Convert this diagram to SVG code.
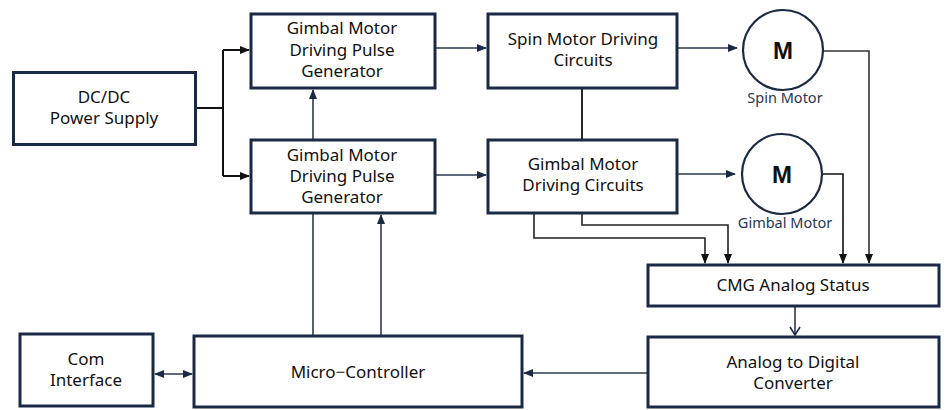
<svg xmlns="http://www.w3.org/2000/svg" width="946" height="410" viewBox="0 0 946 410">
<style>
.box{fill:#fff;stroke:#1b2a44;stroke-width:3}
.t{font-family:"Noto Sans","Open Sans",sans-serif;font-size:17px;fill:#111;text-anchor:middle}
.s{font-family:"Noto Sans","Open Sans",sans-serif;font-size:14.5px;fill:#2a3550;text-anchor:middle}
.m{font-family:"Liberation Sans",Arial,sans-serif;font-size:24px;font-weight:bold;fill:#111;text-anchor:middle}
.c{fill:none;stroke:#2a3a52;stroke-width:1.6}
.k{fill:none;stroke:#111;stroke-width:2}
</style>
<defs>
<marker id="a" markerWidth="10" markerHeight="8" refX="9" refY="4" orient="auto" markerUnits="userSpaceOnUse"><path d="M0,0 L10,4 L0,8 Z" fill="#1b2a44"/></marker>
<marker id="ak" markerWidth="10" markerHeight="8" refX="9" refY="4" orient="auto" markerUnits="userSpaceOnUse"><path d="M0,0 L10,4 L0,8 Z" fill="#111"/></marker>
<marker id="as" markerWidth="10" markerHeight="8" refX="9" refY="4" orient="auto-start-reverse" markerUnits="userSpaceOnUse"><path d="M0,0 L10,4 L0,8 Z" fill="#1b2a44"/></marker>
<marker id="v" markerWidth="10" markerHeight="12" refX="9" refY="6" orient="auto" markerUnits="userSpaceOnUse"><path d="M1,1 L9,6 L1,11" fill="none" stroke="#1b2a44" stroke-width="1.6"/></marker>
</defs>
<g id="connectors">
<path class="k" d="M196,108 H223 M223,50 V176"/>
<path class="k" d="M223,50 H249" marker-end="url(#ak)"/>
<path class="k" d="M223,176 H249" marker-end="url(#ak)"/>
<path class="c" d="M313,139 V90" marker-end="url(#a)"/>
<path class="c" d="M436,48 H486" marker-end="url(#a)"/>
<path class="c" d="M436,175 H486" marker-end="url(#a)"/>
<path class="k" d="M582,88 V139" style="stroke-width:1.8"/>
<path class="c" d="M678,48 H737" marker-end="url(#a)"/>
<path class="c" d="M678,174 H735" marker-end="url(#a)"/>
<path class="k" d="M823,51 H869 V263" style="stroke:#333;stroke-width:1.6" marker-end="url(#ak)"/>
<path class="k" d="M822,174 H843 V263" style="stroke-width:1.6" marker-end="url(#ak)"/>
<path class="k" d="M534,213 V238 H705 V263" style="stroke:#222;stroke-width:1.6" marker-end="url(#ak)"/>
<path class="k" d="M582,213 V225 H728 V263" style="stroke:#222;stroke-width:1.6" marker-end="url(#ak)"/>
<path class="c" d="M795,306 V335" marker-end="url(#v)"/>
<path class="c" d="M647,373 H524" marker-end="url(#a)"/>
<path class="c" d="M155,374 H192" marker-start="url(#as)" marker-end="url(#as)"/>
<path class="c" d="M313,335 V213"/>
<path class="c" d="M381,335 V215" marker-end="url(#a)"/>
</g>
<g id="dcdc"><rect class="box" x="13.5" y="72.5" width="182" height="72"/><text class="t" x="104" y="103">DC/DC</text><text class="t" x="104" y="124">Power Supply</text></g>
<g id="gmdpg1"><rect class="box" x="251" y="14" width="184" height="74"/><text class="t" x="342" y="34">Gimbal Motor</text><text class="t" x="342" y="56">Driving Pulse</text><text class="t" x="342" y="77">Generator</text></g>
<g id="gmdpg2"><rect class="box" x="251" y="140" width="184" height="73"/><text class="t" x="342" y="161">Gimbal Motor</text><text class="t" x="342" y="182">Driving Pulse</text><text class="t" x="342" y="203">Generator</text></g>
<g id="spin"><rect class="box" x="488" y="14" width="189" height="74"/><text class="t" x="583" y="45">Spin Motor Driving</text><text class="t" x="583" y="66">Circuits</text></g>
<g id="gmdc"><rect class="box" x="488" y="140" width="189" height="73"/><text class="t" x="583" y="170">Gimbal Motor</text><text class="t" x="583" y="191">Driving Circuits</text></g>
<g id="spinmotor"><circle cx="783" cy="50" r="40" fill="#fff" stroke="#1b2a44" stroke-width="2.2"/><text class="m" x="783" y="59">M</text><text class="s" x="785" y="103">Spin  Motor</text></g>
<g id="gimbalmotor"><circle cx="782" cy="174" r="40" fill="#fff" stroke="#1b2a44" stroke-width="2.2"/><text class="m" x="782" y="183">M</text><text class="s" x="785" y="228">Gimbal Motor</text></g>
<g id="cmg"><rect class="box" x="648" y="265" width="291" height="41"/><text class="t" x="793" y="291">CMG Analog Status</text></g>
<g id="adc"><rect class="box" x="648" y="337" width="291" height="70"/><text class="t" x="793" y="368">Analog to Digital</text><text class="t" x="793" y="389">Converter</text></g>
<g id="micro"><rect class="box" x="194" y="336" width="328" height="71"/><text class="t" x="358" y="378">Micro−Controller</text></g>
<g id="com"><rect class="box" x="20" y="334" width="133" height="72"/><text class="t" x="86" y="365">Com</text><text class="t" x="86" y="386">Interface</text></g>
</svg>
